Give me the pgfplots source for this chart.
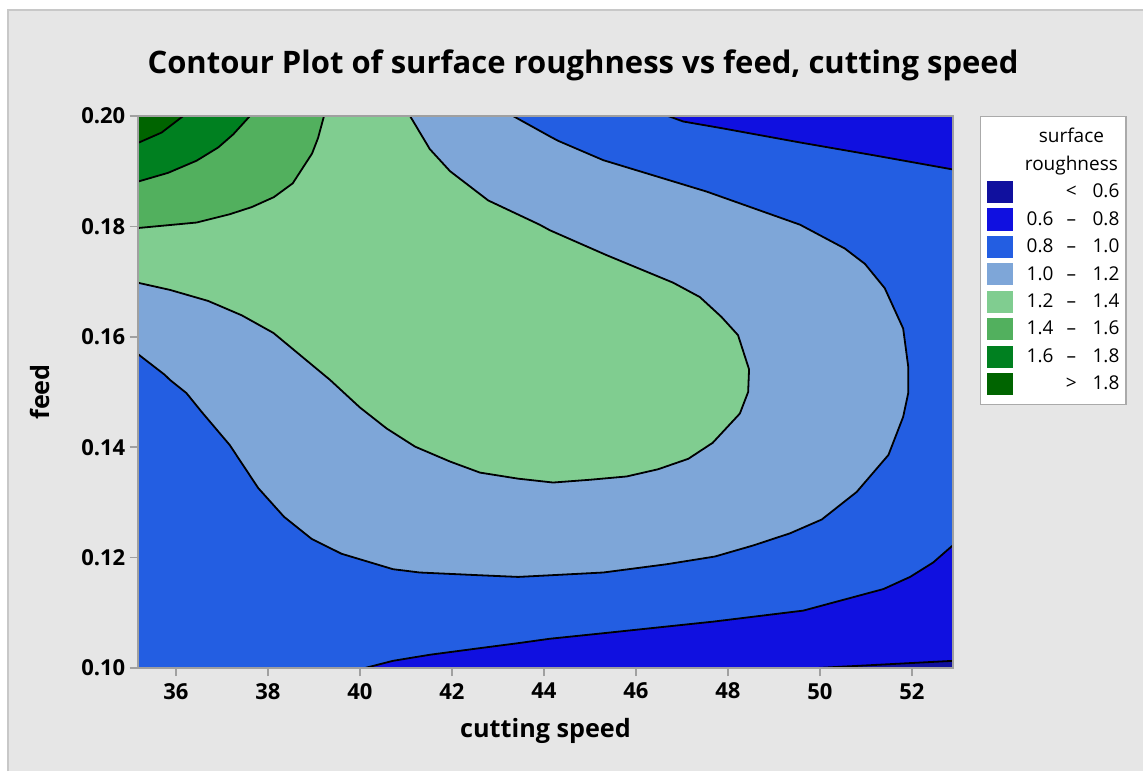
\documentclass[border=0pt]{standalone}
\usepackage{fontspec}
\setmainfont{Open Sans}
\usepackage{pgfplots}
\pgfplotsset{compat=1.18}

% contour band colours
\definecolor{cA}{RGB}{16,16,158}    % < 0.6
\definecolor{cB}{RGB}{16,16,224}    % 0.6 - 0.8
\definecolor{cC}{RGB}{35,94,226}    % 0.8 - 1.0
\definecolor{cD}{RGB}{126,166,216}  % 1.0 - 1.2
\definecolor{cE}{RGB}{128,205,144}  % 1.2 - 1.4
\definecolor{cF}{RGB}{82,176,94}    % 1.4 - 1.6
\definecolor{cG}{RGB}{0,128,32}     % 1.6 - 1.8
\definecolor{cH}{RGB}{0,100,0}      % > 1.8
\definecolor{panel}{RGB}{230,230,230}
\definecolor{framec}{RGB}{200,200,200}
\definecolor{axisgray}{RGB}{160,160,160}
\definecolor{legendgray}{RGB}{170,170,170}

\newcommand{\band}[2]{\makebox[15pt][r]{#1}\makebox[18pt][c]{--}\makebox[15pt][r]{#2}}

\begin{document}
\begin{tikzpicture}
\path[use as bounding box, fill=white] (0,0) rectangle (571.5pt,385.5pt);
\fill[panel] (4pt,0) rectangle (571.5pt,380.5pt);
\draw[framec, line width=0.8pt] (4pt,0) -- (4pt,380.5pt) -- (571.5pt,380.5pt);
\begin{axis}[
  at={(68.85pt,51.5pt)}, anchor=south west,
  scale only axis, width=407.8pt, height=276pt,
  xmin=35.17, xmax=52.9, ymin=0.10, ymax=0.20,
  xtick={36,38,40,42,44,46,48,50,52},
  ytick={0.10,0.12,0.14,0.16,0.18,0.20},
  axis on top,
  axis line style={draw=axisgray, line width=1pt},
  tick style={draw=axisgray, line width=0.8pt},
  tick align=outside, major tick length=4pt,
  tick pos=left,
  /pgf/number format/assume math mode=true,
  yticklabel style={inner xsep=2pt, /pgf/number format/.cd, fixed, fixed zerofill, precision=2},
  tick label style={font=\bfseries\fontsize{11}{13}\selectfont, text=black},
  xlabel={cutting speed}, ylabel={feed},
  label style={font=\bfseries\fontsize{12.6}{15}\selectfont},
  xlabel style={at={(axis description cs:0.5,-0.1087)}, anchor=center, yshift=-1.5pt},
  ylabel style={at={(axis description cs:-0.1198,0.5)}, anchor=center},
  title={Contour Plot of surface roughness vs feed, cutting speed},
  title style={at={(axis description cs:0.546,1.0785)}, anchor=base, yshift=-6.5pt,
    font=\bfseries\fontsize{15.5}{18}\selectfont},
  legend style={at={(1,1)}, anchor=north west, xshift=13.35pt,
    draw=legendgray, line width=0.6pt, fill=white,
    font=\fontsize{9.5}{11}\selectfont,
    inner xsep=3.3pt, inner ysep=3.5pt, column sep=5pt, row sep=0pt,
    nodes={inner sep=0pt, text height=9.7pt, text depth=4pt}},
  legend cell align=left,
]
% 0.8 - 1.0 background band
\addplot[fill=cC, draw=none, forget plot] coordinates {(35,0.099) (53,0.099) (53,0.201) (35,0.201)} --cycle;
% 1.0 - 1.2
\addplot[fill=cD, draw=none, forget plot] coordinates {
  (35.0,0.201) (43.33,0.201) (43.33,0.2) (44.13,0.1963) (44.31,0.1955) (45.29,0.1920)
  (47.54,0.1863) (49.57,0.1803) (50.54,0.1760) (50.98,0.1732) (51.41,0.1688)
  (51.81,0.1615) (51.92,0.1546) (51.92,0.1498) (51.81,0.1455) (51.49,0.1386)
  (50.80,0.1319) (50.04,0.1269) (49.35,0.1244) (48.55,0.1222) (47.72,0.1202)
  (46.67,0.1188) (45.29,0.1173) (43.91,0.1167) (43.44,0.1165) (42.61,0.1168)
  (41.30,0.1173) (40.72,0.1179) (39.60,0.1207) (38.95,0.1234) (38.35,0.1274)
  (37.79,0.1326) (37.17,0.1404) (36.56,0.1464) (36.23,0.1498) (35.87,0.1522)
  (35.76,0.1531) (35.17,0.1569) (35.0,0.1580)} --cycle;
% 1.2 - 1.4
\addplot[fill=cE, draw=none, forget plot] coordinates {
  (35.0,0.201) (41.09,0.201) (41.09,0.2) (41.52,0.1940) (41.96,0.1900) (42.79,0.1847)
  (43.91,0.1803) (44.13,0.1793) (45.36,0.1748) (46.81,0.1698) (47.39,0.1672)
  (47.86,0.1636) (48.22,0.1603) (48.46,0.1541) (48.44,0.1500) (48.26,0.1461)
  (47.67,0.1408) (47.14,0.1379) (46.48,0.1360) (45.80,0.1347) (45.00,0.1341)
  (44.20,0.1336) (43.44,0.1343) (42.61,0.1354) (41.96,0.1374) (41.20,0.1401)
  (40.58,0.1434) (40.00,0.1472) (39.35,0.1522) (38.12,0.1607) (37.43,0.1639)
  (36.70,0.1665) (35.87,0.1685) (35.17,0.1698) (35.0,0.1701)} --cycle;
% 1.4 - 1.6
\addplot[fill=cF, draw=none, forget plot] coordinates {
  (35.0,0.201) (39.22,0.201) (39.22,0.2) (39.09,0.1960) (38.96,0.1932) (38.54,0.1878)
  (38.13,0.1853) (37.65,0.1835) (37.17,0.1822) (36.45,0.1807) (35.17,0.1797)
  (35.0,0.1796)} --cycle;
% 1.6 - 1.8
\addplot[fill=cG, draw=none, forget plot] coordinates {
  (35.0,0.201) (37.61,0.201) (37.61,0.2) (37.25,0.1967) (36.92,0.1943) (36.45,0.1919)
  (35.83,0.1897) (35.17,0.1881) (35.0,0.1877)} --cycle;
% > 1.8
\addplot[fill=cH, draw=none, forget plot] coordinates {
  (35.0,0.201) (36.16,0.201) (36.16,0.2) (35.69,0.1970) (35.17,0.1951) (35.0,0.1944)} --cycle;
% 0.6 - 0.8, upper right
\addplot[fill=cB, draw=none, forget plot] coordinates {
  (46.70,0.201) (46.70,0.2) (47.03,0.1990) (47.86,0.1978) (49.57,0.1952) (51.16,0.1929)
  (52.9,0.1903) (53.0,0.1901) (53.0,0.201)} --cycle;
% 0.6 - 0.8, lower right
\addplot[fill=cB, draw=none, forget plot] coordinates {
  (40.05,0.099) (40.11,0.1) (40.72,0.1013) (41.52,0.1024) (42.61,0.1036) (43.44,0.1045)
  (44.13,0.1053) (45.29,0.1063) (47.68,0.1084) (49.64,0.1104) (51.38,0.1143)
  (51.96,0.1165) (52.46,0.1191) (52.9,0.1223) (53.0,0.1232) (53.0,0.099)} --cycle;
% < 0.6
\addplot[fill=cA, draw=none, forget plot] coordinates {
  (49.93,0.099) (49.93,0.1) (52.9,0.1013) (53.0,0.1014) (53.0,0.099)} --cycle;

% contour lines
\pgfplotsset{cline/.style={black, line width=0.9pt, forget plot, line join=round}}
\addplot[cline] coordinates {
  (43.33,0.2) (44.13,0.1963) (44.31,0.1955) (45.29,0.1920)
  (47.54,0.1863) (49.57,0.1803) (50.54,0.1760) (50.98,0.1732) (51.41,0.1688)
  (51.81,0.1615) (51.92,0.1546) (51.92,0.1498) (51.81,0.1455) (51.49,0.1386)
  (50.80,0.1319) (50.04,0.1269) (49.35,0.1244) (48.55,0.1222) (47.72,0.1202)
  (46.67,0.1188) (45.29,0.1173) (43.91,0.1167) (43.44,0.1165) (42.61,0.1168)
  (41.30,0.1173) (40.72,0.1179) (39.60,0.1207) (38.95,0.1234) (38.35,0.1274)
  (37.79,0.1326) (37.17,0.1404) (36.56,0.1464) (36.23,0.1498) (35.87,0.1522)
  (35.76,0.1531) (35.17,0.1569)};
\addplot[cline] coordinates {
  (41.09,0.2) (41.52,0.1940) (41.96,0.1900) (42.79,0.1847)
  (43.91,0.1803) (44.13,0.1793) (45.36,0.1748) (46.81,0.1698) (47.39,0.1672)
  (47.86,0.1636) (48.22,0.1603) (48.46,0.1541) (48.44,0.1500) (48.26,0.1461)
  (47.67,0.1408) (47.14,0.1379) (46.48,0.1360) (45.80,0.1347) (45.00,0.1341)
  (44.20,0.1336) (43.44,0.1343) (42.61,0.1354) (41.96,0.1374) (41.20,0.1401)
  (40.58,0.1434) (40.00,0.1472) (39.35,0.1522) (38.12,0.1607) (37.43,0.1639)
  (36.70,0.1665) (35.87,0.1685) (35.17,0.1698)};
\addplot[cline] coordinates {
  (39.22,0.2) (39.09,0.1960) (38.96,0.1932) (38.54,0.1878)
  (38.13,0.1853) (37.65,0.1835) (37.17,0.1822) (36.45,0.1807) (35.17,0.1797)};
\addplot[cline] coordinates {
  (37.61,0.2) (37.25,0.1967) (36.92,0.1943) (36.45,0.1919)
  (35.83,0.1897) (35.17,0.1881)};
\addplot[cline] coordinates {(36.16,0.2) (35.69,0.1970) (35.17,0.1951)};
\addplot[cline] coordinates {
  (46.70,0.2) (47.03,0.1990) (47.86,0.1978) (49.57,0.1952) (51.16,0.1929) (52.9,0.1903)};
\addplot[cline] coordinates {
  (40.11,0.1) (40.72,0.1013) (41.52,0.1024) (42.61,0.1036) (43.44,0.1045)
  (44.13,0.1053) (45.29,0.1063) (47.68,0.1084) (49.64,0.1104) (51.38,0.1143)
  (51.96,0.1165) (52.46,0.1191) (52.9,0.1223)};
\addplot[cline] coordinates {(49.93,0.1) (52.9,0.1013)};

% legend
\addlegendimage{empty legend}
\addlegendentry{\makebox[48pt][c]{surface}}
\addlegendimage{empty legend}
\addlegendentry{\makebox[48pt][c]{roughness}}
\addlegendimage{legend image code/.code={\fill[cA] (0pt,-5.2pt) rectangle (12.5pt,5.2pt);}}
\addlegendentry{\makebox[15pt]{}\makebox[18pt][c]{<}\makebox[15pt][r]{0.6}}
\addlegendimage{legend image code/.code={\fill[cB] (0pt,-5.2pt) rectangle (12.5pt,5.2pt);}}
\addlegendentry{\band{0.6}{0.8}}
\addlegendimage{legend image code/.code={\fill[cC] (0pt,-5.2pt) rectangle (12.5pt,5.2pt);}}
\addlegendentry{\band{0.8}{1.0}}
\addlegendimage{legend image code/.code={\fill[cD] (0pt,-5.2pt) rectangle (12.5pt,5.2pt);}}
\addlegendentry{\band{1.0}{1.2}}
\addlegendimage{legend image code/.code={\fill[cE] (0pt,-5.2pt) rectangle (12.5pt,5.2pt);}}
\addlegendentry{\band{1.2}{1.4}}
\addlegendimage{legend image code/.code={\fill[cF] (0pt,-5.2pt) rectangle (12.5pt,5.2pt);}}
\addlegendentry{\band{1.4}{1.6}}
\addlegendimage{legend image code/.code={\fill[cG] (0pt,-5.2pt) rectangle (12.5pt,5.2pt);}}
\addlegendentry{\band{1.6}{1.8}}
\addlegendimage{legend image code/.code={\fill[cH] (0pt,-5.2pt) rectangle (12.5pt,5.2pt);}}
\addlegendentry{\makebox[15pt]{}\makebox[18pt][c]{>}\makebox[15pt][r]{1.8}}
\end{axis}
\end{tikzpicture}
\end{document}
